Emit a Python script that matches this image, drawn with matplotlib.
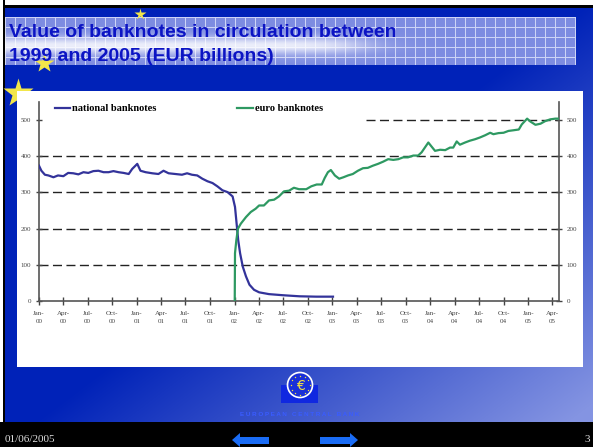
import numpy as np
import pandas as pd
import matplotlib
matplotlib.use('Agg')
import matplotlib.pyplot as plt
from matplotlib.patches import Rectangle, Circle, Polygon

# values (EUR billions)
nat_dates = ['2000-01-01', '2000-01-10', '2000-01-23', '2000-02-05', '2000-02-24', '2000-03-12',
             '2000-04-01', '2000-04-19', '2000-05-08', '2000-05-27', '2000-06-15', '2000-07-03',
             '2000-07-22', '2000-08-10', '2000-08-29', '2000-09-17', '2000-10-05', '2000-10-24',
             '2000-11-12', '2000-12-01', '2000-12-14', '2001-01-02', '2001-01-14', '2001-02-02',
             '2001-02-27', '2001-03-22', '2001-04-10', '2001-04-29', '2001-05-24', '2001-06-18',
             '2001-07-07', '2001-07-25', '2001-08-14', '2001-09-02', '2001-09-21', '2001-10-10',
             '2001-10-28', '2001-11-16', '2001-12-05', '2001-12-24', '2002-01-02', '2002-01-08',
             '2002-01-14', '2002-01-21', '2002-01-31', '2002-02-12', '2002-02-25', '2002-03-14',
             '2002-04-02', '2002-05-09', '2002-06-29', '2002-08-31', '2002-11-01', '2003-01-03']
nat_values = [374, 360, 349, 347, 342, 347,
              345, 354, 353, 350, 356, 354,
              359, 360, 356, 356, 359, 356,
              354, 351, 365, 379, 360, 356,
              353, 351, 360, 353, 351, 349,
              353, 349, 347, 338, 331, 326,
              317, 306, 301, 289, 260, 214,
              168, 132, 95, 68, 45, 31,
              24, 19, 16, 13, 12, 12]

euro_dates = ['2002-01-01', '2002-01-02', '2002-01-07', '2002-01-13', '2002-01-24', '2002-02-12',
              '2002-03-02', '2002-03-20', '2002-04-02', '2002-04-20', '2002-05-09', '2002-05-28',
              '2002-06-15', '2002-07-04', '2002-07-23', '2002-08-10', '2002-08-29', '2002-09-25',
              '2002-10-14', '2002-11-03', '2002-11-22', '2002-12-03', '2002-12-15', '2002-12-26',
              '2003-01-10', '2003-01-26', '2003-02-11', '2003-02-28', '2003-03-18', '2003-04-06',
              '2003-04-25', '2003-05-13', '2003-06-01', '2003-06-20', '2003-07-09', '2003-07-28',
              '2003-08-16', '2003-09-04', '2003-09-22', '2003-10-10', '2003-10-30', '2003-11-17',
              '2003-11-30', '2003-12-12', '2003-12-25', '2004-01-07', '2004-01-19', '2004-02-07',
              '2004-02-26', '2004-03-15', '2004-03-27', '2004-04-09', '2004-04-21', '2004-05-10',
              '2004-05-28', '2004-06-16', '2004-07-05', '2004-07-24', '2004-08-12', '2004-08-24',
              '2004-09-12', '2004-10-01', '2004-10-19', '2004-11-08', '2004-11-27', '2004-12-08',
              '2004-12-28', '2005-01-09', '2005-01-28', '2005-02-16', '2005-03-05', '2005-03-24',
              '2005-04-12', '2005-04-26']
euro_values = [0, 132, 168, 200, 214, 232,
               246, 255, 264, 264, 278, 280,
               289, 303, 305, 313, 309, 309,
               317, 322, 322, 340, 356, 362,
               347, 338, 342, 347, 351, 360,
               367, 368, 374, 379, 385, 392,
               390, 392, 397, 397, 402, 402,
               411, 424, 438, 426, 415, 418,
               417, 424, 424, 441, 432, 438,
               443, 447, 452, 458, 465, 461,
               464, 465, 470, 472, 474, 488,
               504, 496, 487, 490, 497, 502,
               504, 504]

y_ticks = [0, 100, 200, 300, 400, 500]
grid_levels = [100, 200, 300, 400]
tick_dates = pd.date_range('2000-01-01', '2005-04-01', freq='QS')
tick_labels = [d.strftime('%b-\n%y') for d in tick_dates]

W, H = 593, 447
fig = plt.figure(figsize=(W / 100, H / 100), dpi=100)

# slide background
bg = fig.add_axes([0, 0, 1, 1])
bg.set_xlim(0, W)
bg.set_ylim(H, 0)
bg.axis('off')

yy, xx = np.mgrid[0:H, 0:W]
t = np.clip((xx / W + yy / H - 1.0) / 0.9, 0, 1)
dark = np.array([0, 34, 184]) / 255
light = np.array([132, 148, 226]) / 255
img = dark + t[..., None] * (light - dark)
band = (yy >= 17) & (yy < 65) & (xx >= 5) & (xx < 576)
img[band] = np.array([125, 140, 225]) / 255
grid = band & (((xx - 5) % 10 == 0) | ((yy - 17) % 10 == 0))
img[grid] = np.array([205, 212, 246]) / 255
glow = (1 / (1 + np.exp((xx - 360) / 18.0))) * np.exp(-((yy - 45) / 9.0) ** 2) * band
img = img + (1 - img) * glow[..., None] * 0.85
img[yy < 8] = 0
img[yy < 5] = 1
img[xx < 5] = 0
img[xx < 3] = 1
img[yy >= 422] = 0
bg.imshow(img, extent=(0, W, H, 0), aspect='auto', interpolation='nearest')

star = '#F2E64A'
bg.plot(140, 14, marker='*', ms=9, color=star, mec='none')
bg.plot(44, 63, marker='*', ms=15, color=star, mec='none')
bg.plot(18, 93, marker='*', ms=22, color=star, mec='none')

bg.text(9, 37, 'Value of banknotes in circulation between', family='Liberation Sans',
        weight='bold', size=14, color='#0c14c4', va='baseline')
bg.text(9, 61, '1999 and 2005 (EUR billions)', family='Liberation Sans',
        weight='bold', size=14, color='#0c14c4', va='baseline')

bg.add_patch(Rectangle((17, 91), 566, 276, fc='white', ec='none', zorder=3))

# ECB logo and footer
bg.add_patch(Rectangle((281, 385), 37, 18, fc='#1028e0', ec='none', zorder=3))
bg.add_patch(Circle((300, 385), 12.5, fc='#1a30d8', ec='white', lw=1.2, zorder=3))
for a in np.linspace(0, 2 * np.pi, 12, endpoint=False):
    bg.plot(300 + 9.5 * np.cos(a), 385 + 9.5 * np.sin(a), 'o', ms=1, color='#f5e040', mec='none', zorder=4)
bg.text(300, 385.5, '€', ha='center', va='center', size=10, color='#f5e040', zorder=4)
bg.text(300, 415, 'E U R O P E A N   C E N T R A L   B A N K', ha='center', va='center',
        size=4.5, color='#3a5cff', weight='bold', family='Liberation Sans', zorder=4)

arrow = '#1a6cf5'
bg.add_patch(Polygon([(232, 440), (240, 433), (240, 437), (269, 437), (269, 444),
                      (240, 444), (240, 447)], closed=True, fc=arrow, ec='none', zorder=3))
bg.add_patch(Polygon([(358, 440), (350, 433), (350, 437), (320, 437), (320, 444),
                      (350, 444), (350, 447)], closed=True, fc=arrow, ec='none', zorder=3))
bg.text(5, 440, '01/06/2005', family='Liberation Serif', size=8, color='#dddddd', va='center')
bg.text(590, 440, '3', family='Liberation Serif', size=8, color='#dddddd', va='center', ha='right')

# the chart
ax = fig.add_axes([39 / W, 1 - 301 / H, 520 / W, 199 / H])
ax.patch.set_alpha(0)

for v in grid_levels:
    ax.axhline(v, color='#222222', lw=1.0, ls=(0, (6.5, 3.2)), zorder=1)
ax.axhline(500, xmin=(366 - 39) / 520, color='#222222', lw=1.0, ls=(0, (6.5, 3.2)), zorder=1)

ax.plot(pd.to_datetime(nat_dates), nat_values, color='#33339a', lw=1.6, label='national banknotes', zorder=3)
ax.plot(pd.to_datetime(euro_dates), euro_values, color='#2e9962', lw=1.6, label='euro banknotes', zorder=3)

ax.set_xlim(pd.Timestamp('2000-01-01'), pd.Timestamp('2005-04-26'))
ax.set_ylim(0, 550)
ax.set_yticks(y_ticks)
ax.set_xticks(tick_dates)
ax.set_xticklabels(tick_labels, family='Liberation Serif', size=5, color='#444444', linespacing=1.9)

ax.spines['top'].set_visible(False)
for s in ['left', 'right', 'bottom']:
    ax.spines[s].set_color('#555555')
    ax.spines[s].set_linewidth(1.2)
ax.yaxis.set_ticks_position('both')
ax.tick_params(axis='y', labelleft=True, labelright=True, direction='inout', length=5,
               width=1, color='#444444', labelcolor='#444444', labelsize=5, pad=3)
ax.tick_params(axis='x', direction='inout', length=6, width=1, color='#444444', pad=4)
for lab in ax.get_yticklabels(which='both'):
    lab.set_family('Liberation Serif')

ax.legend(loc='upper left', bbox_to_anchor=(0.031, 0.99), ncol=2, frameon=False,
          borderpad=0, borderaxespad=0, handlelength=1.45, handletextpad=0.2,
          columnspacing=7.75, prop={'family': 'Liberation Serif', 'weight': 'bold', 'size': 7.5})

fig.savefig('out.png', dpi=100)
